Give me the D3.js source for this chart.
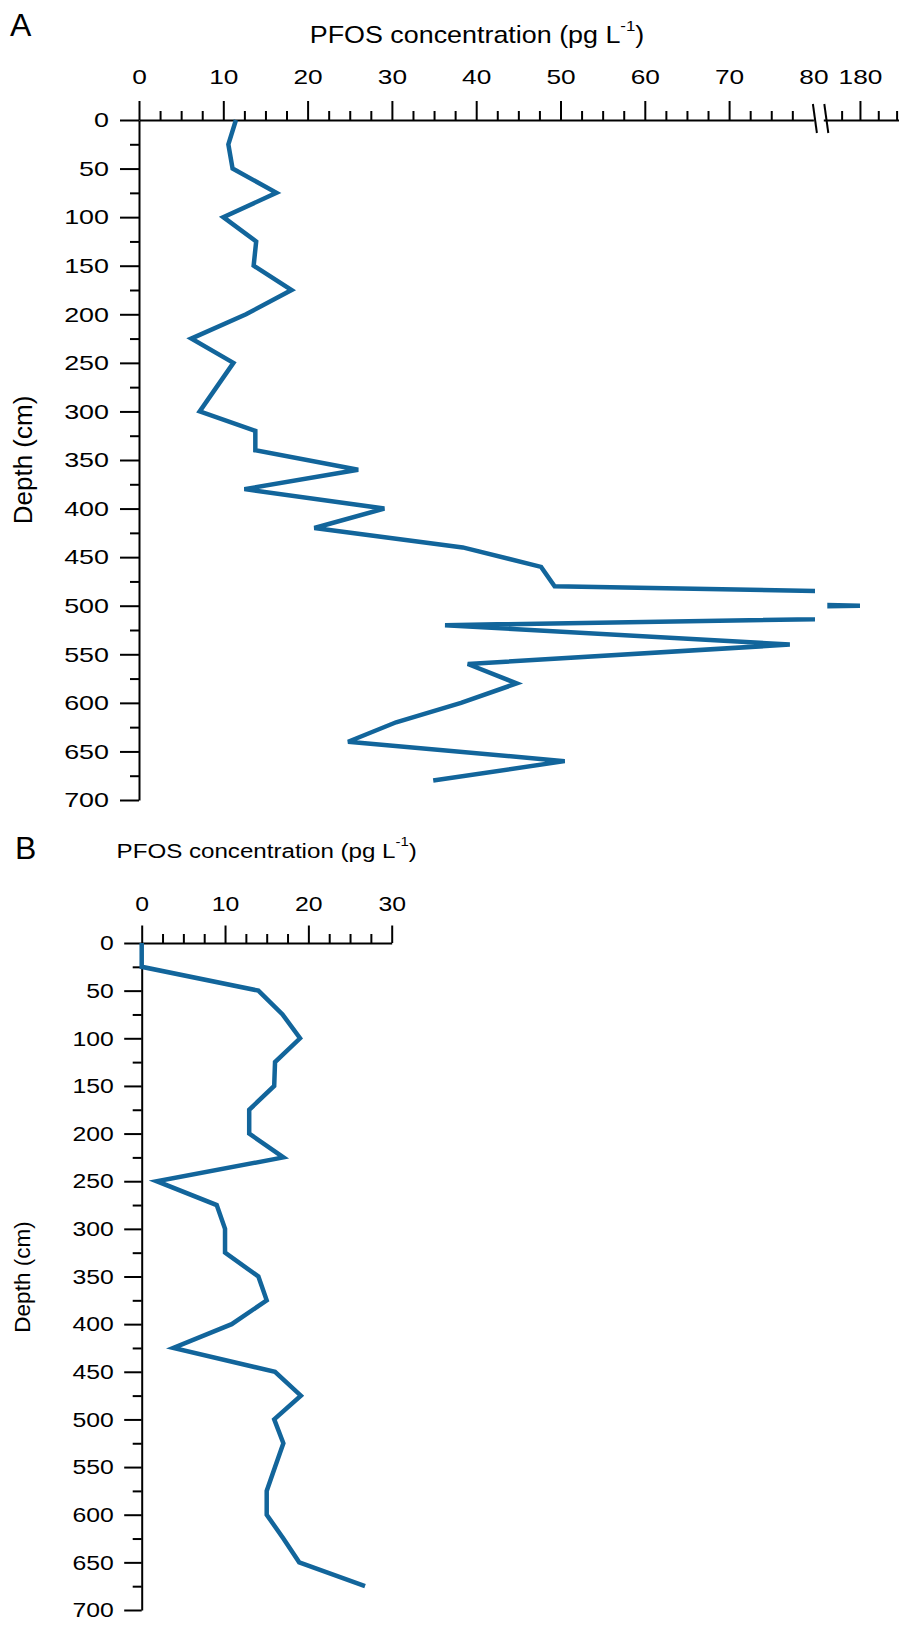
<!DOCTYPE html>
<html>
<head>
<meta charset="utf-8">
<script src="https://cdn.jsdelivr.net/npm/d3@7"></script>
<style>
  html, body { margin: 0; padding: 0; background: #fff; }
  svg { display: block; font-family: "Liberation Sans", Arial, Helvetica, sans-serif; }
</style>
</head>
<body>
<svg id="chart" width="899" height="1635"></svg>
<script>
// Profile A: sampling depth (cm) and PFOS concentration (pg/L)
const depthA = [0, 25, 50, 75, 100, 125, 150, 175, 200, 225, 250, 300,
                320, 340, 360, 380, 400, 420, 440, 460, 480, 500, 520, 540,
                560, 580, 600, 620, 640, 660, 680];
const pfosA  = [11.5, 10.6, 11.1, 16.3, 10.0, 13.9, 13.6, 18.1, 12.7, 6.2, 11.2, 7.2,
                13.8, 13.8, 26.0, 12.5, 29.1, 20.8, 38.4, 47.7, 49.3, 180, 36.3, 77.2,
                39.0, 44.8, 38.2, 30.5, 24.8, 50.5, 34.9];

// Profile B
const depthB = [0, 25, 50, 75, 100, 125, 150, 175, 200, 225, 250, 275, 300, 325,
                350, 375, 400, 425, 450, 475, 500, 525, 550, 575, 600, 625, 650, 675];
const pfosB  = [0, 0, 14.0, 16.9, 19.0, 16.0, 15.9, 12.9, 12.9, 17.0, 1.8, 9.0, 10.0, 10.0,
                14.0, 15.0, 10.8, 3.8, 16.0, 19.1, 15.9, 17.0, 16.0, 15.0, 15.0, 17.0, 18.9, 26.8];

// Axis tick labels
const concTicksA     = [0, 10, 20, 30, 40, 50, 60, 70, 80];
const concTicksAHigh = [180];
const concTicksB     = [0, 10, 20, 30];
const depthTicks     = [0, 50, 100, 150, 200, 250, 300, 350, 400, 450, 500, 550, 600, 650, 700];

const panelLabels = ["A", "B"];
const xTitle = "PFOS concentration (pg L";
const xTitleSup = "-1";
const yTitle = "Depth (cm)";

const LINE_COLOR = "#12659b";
const LINE_WIDTH = 4.5;
const FONT = "'Liberation Sans', Arial, Helvetica, sans-serif";

const svg = d3.select("#chart");
svg.append("rect").attr("width", 899).attr("height", 1635).attr("fill", "#fff");

// style an axis group: black 2px strokes, sized labels, optional horizontal stretch
function styleAxis(g, fontSize, stretch, orient) {
  g.attr("font-family", FONT).attr("font-size", fontSize);
  g.selectAll("path.domain").attr("stroke", "#000").attr("stroke-width", 2);
  g.selectAll(".tick line").attr("stroke", "#000").attr("stroke-width", 2);
  g.selectAll(".tick text").attr("fill", "#000").each(function () {
    const t = d3.select(this);
    if (orient === "left") t.attr("x", +t.attr("x") / stretch);
    t.attr("transform", `scale(${stretch},1)`);
  });
}

// minor ticks only: no domain line, no labels
function minorAxis(g, axisGen) {
  g.call(axisGen);
  g.select("path.domain").remove();
  g.selectAll(".tick line").attr("stroke", "#000").attr("stroke-width", 2);
  g.selectAll(".tick text").remove();
}

function drawTitle(cx, baseline, size, supSize, supShift, stretch) {
  const g = svg.append("g").attr("transform", `translate(${cx},${baseline}) scale(${stretch},1)`);
  const t = g.append("text").attr("text-anchor", "middle").attr("font-family", FONT)
    .attr("font-size", size).attr("fill", "#000");
  t.append("tspan").text(xTitle);
  t.append("tspan").attr("font-size", supSize).attr("dy", -supShift).text(xTitleSup);
  t.append("tspan").attr("dy", supShift).text(")");
}

function drawYTitle(x, cy, size) {
  svg.append("text")
    .attr("transform", `translate(${x},${cy}) rotate(-90)`)
    .attr("text-anchor", "middle").attr("font-family", FONT)
    .attr("font-size", size).attr("fill", "#000").text(yTitle);
}

function drawPanelLabel(label, x, baseline) {
  svg.append("text").attr("x", x).attr("y", baseline).attr("font-family", FONT)
    .attr("font-size", 32).attr("fill", "#000").text(label);
}

/* ---------------- Panel A (broken concentration axis) ---------------- */
const yA  = d3.scaleLinear().domain([0, 700]).range([120, 800]);
const xA1 = d3.scaleLinear().domain([0, 80]).range([139, 813.4]);
const xA2 = d3.scaleLinear().domain([175, 185.3]).range([823.3, 898.8]);
const dataA = depthA.map((d, i) => ({ depth: d, v: pfosA[i] }));

drawPanelLabel(panelLabels[0], 10, 36);
drawTitle(477, 43, 24, 15, 12, 1.12);
drawYTitle(31.5, 460, 26);

// depth axis
minorAxis(svg.append("g").attr("transform", `translate(${xA1(0)},0)`),
  d3.axisLeft(yA).tickValues(d3.range(25, 700, 50)).tickSize(9).tickSizeOuter(0));
const gAy = svg.append("g").attr("transform", `translate(${xA1(0)},0)`)
  .call(d3.axisLeft(yA).tickValues(depthTicks).tickSize(19).tickSizeOuter(0).tickPadding(11));
styleAxis(gAy, 21, 1.28, "left");

// concentration axis, low segment
minorAxis(svg.append("g").attr("transform", `translate(0,${yA(0)})`),
  d3.axisTop(xA1).tickValues(d3.range(2.5, 80, 2.5).filter(v => v % 10 !== 0)).tickSize(9).tickSizeOuter(0));
const gAx1 = svg.append("g").attr("transform", `translate(0,${yA(0)})`)
  .call(d3.axisTop(xA1).tickValues(concTicksA).tickSize(19).tickSizeOuter(0).tickPadding(17));
gAx1.selectAll(".tick").filter(d => d === 80).select("line").remove();
styleAxis(gAx1, 21, 1.25, "top");

// concentration axis, high segment after the break
minorAxis(svg.append("g").attr("transform", `translate(0,${yA(0)})`),
  d3.axisTop(xA2).tickValues([177.5, 182.5, 185]).tickSize(9).tickSizeOuter(0));
const gAx2 = svg.append("g").attr("transform", `translate(0,${yA(0)})`)
  .call(d3.axisTop(xA2).tickValues(concTicksAHigh).tickSize(19).tickSizeOuter(0).tickPadding(17));
styleAxis(gAx2, 21, 1.25, "top");

// break marks
const breakX = [xA1(80) + 1.5, xA2.range()[0] + 3];
svg.append("g").selectAll("line").data(breakX).join("line")
  .attr("x1", d => d - 2).attr("y1", yA(0) - 16)
  .attr("x2", d => d + 2).attr("y2", yA(0) + 13)
  .attr("stroke", "#000").attr("stroke-width", 2);

// profile line drawn through each axis segment
const defs = svg.append("defs");
defs.append("clipPath").attr("id", "clipLow").append("rect")
  .attr("x", 0).attr("y", 0).attr("width", xA1(80) + 1.5).attr("height", 1635);
defs.append("clipPath").attr("id", "clipHigh").append("rect")
  .attr("x", xA2.range()[0] + 4).attr("y", 0).attr("width", 899).attr("height", 1635);

const lineLow  = d3.line().x(d => xA1(d.v)).y(d => yA(d.depth));
const lineHigh = d3.line().x(d => xA2(d.v)).y(d => yA(d.depth));
svg.append("path").datum(dataA).attr("d", lineLow).attr("clip-path", "url(#clipLow)")
  .attr("fill", "none").attr("stroke", LINE_COLOR).attr("stroke-width", LINE_WIDTH).attr("stroke-linejoin", "miter");
svg.append("path").datum(dataA).attr("d", lineHigh).attr("clip-path", "url(#clipHigh)")
  .attr("fill", "none").attr("stroke", LINE_COLOR).attr("stroke-width", LINE_WIDTH).attr("stroke-linejoin", "miter");

/* ---------------- Panel B ---------------- */
const yB = d3.scaleLinear().domain([0, 700]).range([943, 1610]);
const xB = d3.scaleLinear().domain([0, 30]).range([141.7, 391.7]);
const dataB = depthB.map((d, i) => ({ depth: d, v: pfosB[i] }));

drawPanelLabel(panelLabels[1], 15, 859);
drawTitle(266.7, 858.3, 21, 13, 12, 1.15);
drawYTitle(29.5, 1277, 22.5);

minorAxis(svg.append("g").attr("transform", `translate(${xB(0)},0)`),
  d3.axisLeft(yB).tickValues(d3.range(25, 700, 50)).tickSize(9).tickSizeOuter(0));
const gBy = svg.append("g").attr("transform", `translate(${xB(0)},0)`)
  .call(d3.axisLeft(yB).tickValues(depthTicks).tickSize(17.5).tickSizeOuter(0).tickPadding(10.5));
styleAxis(gBy, 21, 1.18, "left");

minorAxis(svg.append("g").attr("transform", `translate(0,${yB(0)})`),
  d3.axisTop(xB).tickValues(d3.range(2.5, 30, 2.5).filter(v => v % 10 !== 0)).tickSize(9).tickSizeOuter(0));
const gBx = svg.append("g").attr("transform", `translate(0,${yB(0)})`)
  .call(d3.axisTop(xB).tickValues(concTicksB).tickSize(17.5).tickSizeOuter(0).tickPadding(14.5));
styleAxis(gBx, 21, 1.18, "top");

const lineB = d3.line().x(d => xB(d.v)).y(d => yB(d.depth));
svg.append("path").datum(dataB).attr("d", lineB)
  .attr("fill", "none").attr("stroke", LINE_COLOR).attr("stroke-width", LINE_WIDTH).attr("stroke-linejoin", "miter");
</script>
</body>
</html>
